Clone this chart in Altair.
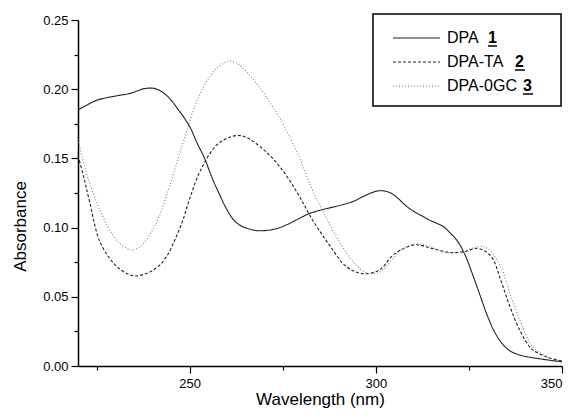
import altair as alt
import pandas as pd

# ---- data ----
wl1 = [220, 222, 225, 228, 231, 234, 238, 241, 244, 247,
       250, 252, 254, 256, 258, 260, 262, 264, 266, 268,
       270, 273, 276, 279, 282, 285, 288, 291, 294, 297,
       300, 302, 304, 306, 308, 310, 312, 314, 316, 318,
       320, 322, 324, 326, 328, 330, 332, 334, 336, 338,
       340, 345, 350]
a1 = [0.185, 0.188, 0.192, 0.194, 0.1955, 0.197, 0.2005, 0.2002, 0.195, 0.185,
      0.173, 0.161, 0.150, 0.136, 0.124, 0.113, 0.105, 0.101, 0.099, 0.0978,
      0.0978, 0.099, 0.102, 0.106, 0.110, 0.1125, 0.1145, 0.1165, 0.119, 0.123,
      0.1262, 0.1266, 0.125, 0.121, 0.116, 0.112, 0.109, 0.106, 0.1035, 0.101,
      0.096, 0.090, 0.080, 0.066, 0.051, 0.036, 0.024, 0.016, 0.011, 0.0085,
      0.007, 0.0048, 0.003]

wl2 = [220, 221.5, 223, 226, 230, 233, 235.5, 238, 240, 242,
       244, 246, 248, 250, 253, 257, 260, 262.5, 265, 270,
       274.5, 279, 283, 287.5, 292, 296.5, 301, 305, 310.5, 315,
       320, 324, 327.5, 331, 333.5, 336, 339, 342, 346.5, 350]
a2 = [0.152, 0.137, 0.120, 0.089, 0.073, 0.067, 0.065, 0.0665, 0.069, 0.073,
      0.080, 0.091, 0.104, 0.121, 0.142, 0.159, 0.1645, 0.1665, 0.1655, 0.156,
      0.143, 0.1247, 0.1055, 0.0875, 0.072, 0.0667, 0.0695, 0.081, 0.0875, 0.085,
      0.082, 0.0827, 0.085, 0.079, 0.0624, 0.043, 0.024, 0.012, 0.006, 0.0036]

wl3 = [220, 222, 224.5, 228, 231, 234.5, 237, 239.5, 241.5, 243.5,
       246, 248.7, 252.5, 257, 260.5, 262.5, 265.5, 270, 274.5, 279,
       283, 287.5, 291, 294, 297, 300, 302.5, 305.5, 308, 311.5,
       315, 318.5, 323, 327.5, 330, 333.5, 336, 339, 342, 346.5, 350]
a3 = [0.164, 0.142, 0.122, 0.1007, 0.089, 0.0838, 0.087, 0.096, 0.106, 0.121,
      0.142, 0.1655, 0.195, 0.2145, 0.2203, 0.219, 0.212, 0.1966, 0.1775, 0.1535,
      0.127, 0.103, 0.0863, 0.075, 0.068, 0.0667, 0.071, 0.0805, 0.086, 0.0883,
      0.086, 0.082, 0.0827, 0.0863, 0.085, 0.072, 0.0527, 0.0312, 0.0144, 0.006, 0.003]

series_names = ["DPA 1", "DPA-TA 2", "DPA-0GC 3"]
legend_names = ["DPA", "DPA-TA", "DPA-0GC"]
legend_nums = ["1", "2", "3"]

x_ticks = [225, 250, 275, 300, 325, 350]
y_ticks = [0, 0.025, 0.05, 0.075, 0.1, 0.125, 0.15, 0.175, 0.2, 0.225, 0.25]

# ---- style ----
colors = ["#222222", "#222222", "#808080"]
dashes = [[1, 0], [3, 2], [1, 2]]
FONT = "Liberation Sans"
W, H = 484, 346

frames = []
for name, wl, a in zip(series_names, [wl1, wl2, wl3], [a1, a2, a3]):
    frames.append(pd.DataFrame({"wl": wl, "abs": a, "series": name}))
df = pd.concat(frames, ignore_index=True)

x_axis = alt.Axis(
    values=x_ticks,
    labelExpr="datum.value % 50 == 0 ? datum.label : ''",
    tickSize={"condition": {"test": "datum.value % 50 == 0", "value": 7}, "value": 4},
    format="d", grid=False, labelPadding=4,
    title="Wavelength (nm)", titleY=38, titleBaseline="alphabetic",
)
y_axis = alt.Axis(
    values=y_ticks,
    labelExpr="round(datum.value*1000) % 50 == 0 ? datum.label : ''",
    tickSize={"condition": {"test": "round(datum.value*1000) % 50 == 0", "value": 7}, "value": 4},
    format=".2f", grid=False, labelPadding=3,
    title="Absorbance", titleX=-58, titleY=206, titleAngle=270, titleBaseline="middle",
)

lines = alt.Chart(df).mark_line(strokeWidth=1.1, interpolate="catmull-rom").encode(
    x=alt.X("wl:Q", scale=alt.Scale(domain=[220, 350], nice=False, zero=False), axis=x_axis),
    y=alt.Y("abs:Q", scale=alt.Scale(domain=[0, 0.25], nice=False), axis=y_axis),
    color=alt.Color("series:N", scale=alt.Scale(domain=series_names, range=colors), legend=None),
    strokeDash=alt.StrokeDash("series:N", scale=alt.Scale(domain=series_names, range=dashes), legend=None),
    detail="series:N",
)

# ---- custom legend (box, samples, labels with bold underlined numbers) ----
box_df = pd.DataFrame({"k": [0]})
box = alt.Chart(box_df).mark_rect(fill="white", stroke="black", strokeWidth=1.5).encode(
    x=alt.value(295), x2=alt.value(483), y=alt.value(-6), y2=alt.value(86)
)
layers = [lines, box]
row_y = [18, 42, 66]
num_x = [410, 437, 445]
num_w = [9, 10, 10]
for i in range(3):
    rdf = pd.DataFrame({"name": [legend_names[i]], "num": [legend_nums[i]]})
    base = alt.Chart(rdf)
    layers.append(base.mark_rule(color=colors[i], strokeDash=dashes[i], strokeWidth=1).encode(
        x=alt.value(315), x2=alt.value(362), y=alt.value(row_y[i])))
    layers.append(base.mark_text(align="left", baseline="middle", font=FONT, fontSize=16, color="black").encode(
        x=alt.value(369), y=alt.value(row_y[i]), text="name:N"))
    layers.append(base.mark_text(align="left", baseline="middle", font=FONT, fontSize=16,
                                 fontWeight="bold", color="black").encode(
        x=alt.value(num_x[i]), y=alt.value(row_y[i]), text="num:N"))
    layers.append(base.mark_rule(color="black", strokeWidth=1.5).encode(
        x=alt.value(num_x[i]), x2=alt.value(num_x[i] + num_w[i]), y=alt.value(row_y[i] + 8)))

chart = alt.layer(*layers).properties(
    width=W, height=H, autosize="none",
    padding={"left": 70, "top": 12, "right": 10, "bottom": 42},
).configure_view(stroke=None).configure_axis(
    labelFont=FONT, titleFont=FONT, labelFontSize=13, titleFontSize=17,
    titleFontWeight="normal", labelColor="black", titleColor="black",
    domainColor="black", tickColor="black", domainWidth=1.5, tickWidth=1.2,
)

chart.save("out.html", embed_options={"renderer": "svg", "actions": False})
